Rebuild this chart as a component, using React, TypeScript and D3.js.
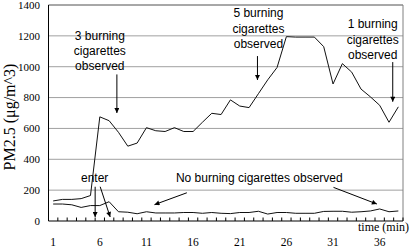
import React from "react";
import * as d3 from "d3";

const minutes: number[] = d3.range(1, 39);
const withCigarettes: number[] = [
  130, 140, 140, 145, 165, 675, 650, 575, 485, 505,
  605, 585, 580, 605, 580, 580, 640, 698, 690, 785,
  745, 735, 825, 915, 995, 1195, 1192, 1192, 1192, 1130,
  888, 1020, 965, 855, 805, 750, 640, 740,
];
const noCigarettes: number[] = [
  110, 110, 105, 88, 100, 100, 125, 60, 57, 47,
  60, 52, 52, 52, 55, 55, 50, 55, 50, 48,
  55, 55, 63, 45, 55, 55, 50, 50, 50, 62,
  63, 63, 57, 60, 65, 78, 60, 65,
];
const xTickLabels: number[] = [1, 6, 11, 16, 21, 26, 31, 36];
const yTicks: number[] = [0, 200, 400, 600, 800, 1000, 1200, 1400];

// annotations in data units (category, value)
const noteTexts: { lines: string[]; cat: number; value: number }[] = [
  { lines: ["3 burning", "cigarettes", "observed"], cat: 6.0, value: 1176 },
  { lines: ["5 burning", "cigarettes", "observed"], cat: 23.0, value: 1319 },
  { lines: ["1 burning", "cigarettes", "observed"], cat: 35.25, value: 1249 },
  { lines: ["enter"], cat: 5.45, value: 255 },
  { lines: ["No burning cigarettes observed"], cat: 23.1, value: 256 },
];
const noteArrows: { c1: number; v1: number; c2: number; v2: number }[] = [
  { c1: 7.83, v1: 950, c2: 7.83, v2: 700 },
  { c1: 22.9, v1: 1069, c2: 22.9, v2: 914 },
  { c1: 37.4, v1: 1030, c2: 37.4, v2: 773 },
  { c1: 5.5, v1: 222, c2: 5.5, v2: 26 },
  { c1: 6.04, v1: 222, c2: 7.11, v2: 26 },
  { c1: 15.33, v1: 183, c2: 11.86, v2: 106 },
  { c1: 31.05, v1: 218, c2: 35.7, v2: 110 },
];

const W = 410;
const H = 247;
const left = 48.5;
const right = 403;
const top = 5;
const bottom = 221;

export default function App() {
  const x = d3
    .scaleBand<number>()
    .domain(minutes)
    .range([left, right])
    .paddingInner(0)
    .paddingOuter(0);
  const bw = x.bandwidth();
  const cx = (c: number) => left + (c - 0.5) * bw;
  const xc = (m: number) => (x(m) as number) + bw / 2;
  const y = d3.scaleLinear().domain([0, 1400]).range([bottom, top]);

  const line = d3
    .line<number>()
    .x((_, i) => xc(minutes[i]))
    .y((d) => y(d));

  const serif = "'Liberation Serif', 'Times New Roman', serif";
  const sans = "'Liberation Sans', Arial, sans-serif";
  const boundaries = d3.range(0, minutes.length + 1).map((k) => left + k * bw);

  return (
    <svg
      width={W}
      height={H}
      style={{ position: "absolute", left: 0, top: 0, background: "#fff" }}
    >
      <defs>
        <marker
          id="arr"
          viewBox="0 0 10 10"
          refX="10"
          refY="5"
          markerWidth="6"
          markerHeight="5"
          markerUnits="userSpaceOnUse"
          orient="auto"
        >
          <path d="M0,0 L10,5 L0,10 z" fill="#000" />
        </marker>
      </defs>
      <rect x={0} y={0} width={W} height={H} fill="#fff" />
      {/* gridlines */}
      {yTicks.slice(1).map((t) => (
        <line
          key={t}
          x1={left}
          x2={right}
          y1={y(t)}
          y2={y(t)}
          stroke="#a0a0a0"
          strokeWidth={1}
        />
      ))}
      {/* border */}
      <line x1={left} x2={right} y1={top} y2={top} stroke="#808080" />
      <line x1={right} x2={right} y1={top} y2={bottom} stroke="#808080" />
      {/* axes */}
      <line x1={left} x2={left} y1={top} y2={bottom} stroke="#000" />
      <line x1={left} x2={right} y1={bottom} y2={bottom} stroke="#000" />
      {boundaries.map((b, i) => (
        <line key={i} x1={b} x2={b} y1={bottom} y2={bottom - 3.5} stroke="#000" />
      ))}
      {/* y tick labels */}
      {yTicks.map((t) => (
        <text
          key={t}
          x={40}
          y={y(t)}
          dy="0.35em"
          textAnchor="end"
          fontFamily={serif}
          fontSize={11}
          fill="#000"
        >
          {t}
        </text>
      ))}
      {/* x tick labels */}
      {xTickLabels.map((m) => (
        <text
          key={m}
          x={xc(m)}
          y={245.5}
          textAnchor="middle"
          fontFamily={serif}
          fontSize={11.5}
          fill="#000"
        >
          {m}
        </text>
      ))}
      <text
        x={409}
        y={230.5}
        textAnchor="end"
        fontFamily={serif}
        fontSize={12}
        fill="#000"
      >
        time (min)
      </text>
      <text
        transform={`translate(15,${(top + bottom) / 2 + 4}) rotate(-90)`}
        textAnchor="middle"
        fontFamily={serif}
        fontSize={16}
        fill="#000"
      >
        PM2.5 (μg/m^3)
      </text>
      {/* series */}
      <path d={line(withCigarettes) || ""} fill="none" stroke="#111" strokeWidth={1} />
      <path d={line(noCigarettes) || ""} fill="none" stroke="#111" strokeWidth={1} />
      {/* annotations */}
      {noteTexts.map((n, i) => (
        <text
          key={i}
          x={cx(n.cat)}
          y={y(n.value)}
          textAnchor="middle"
          fontFamily={sans}
          fontSize={12}
          fill="#000"
        >
          {n.lines.map((l, j) => (
            <tspan key={j} x={cx(n.cat)} dy={j === 0 ? 0 : 15.3}>
              {l}
            </tspan>
          ))}
        </text>
      ))}
      {noteArrows.map((a, i) => (
        <line
          key={i}
          x1={cx(a.c1)}
          y1={y(a.v1)}
          x2={cx(a.c2)}
          y2={y(a.v2)}
          stroke="#000"
          strokeWidth={1}
          markerEnd="url(#arr)"
        />
      ))}
    </svg>
  );
}
